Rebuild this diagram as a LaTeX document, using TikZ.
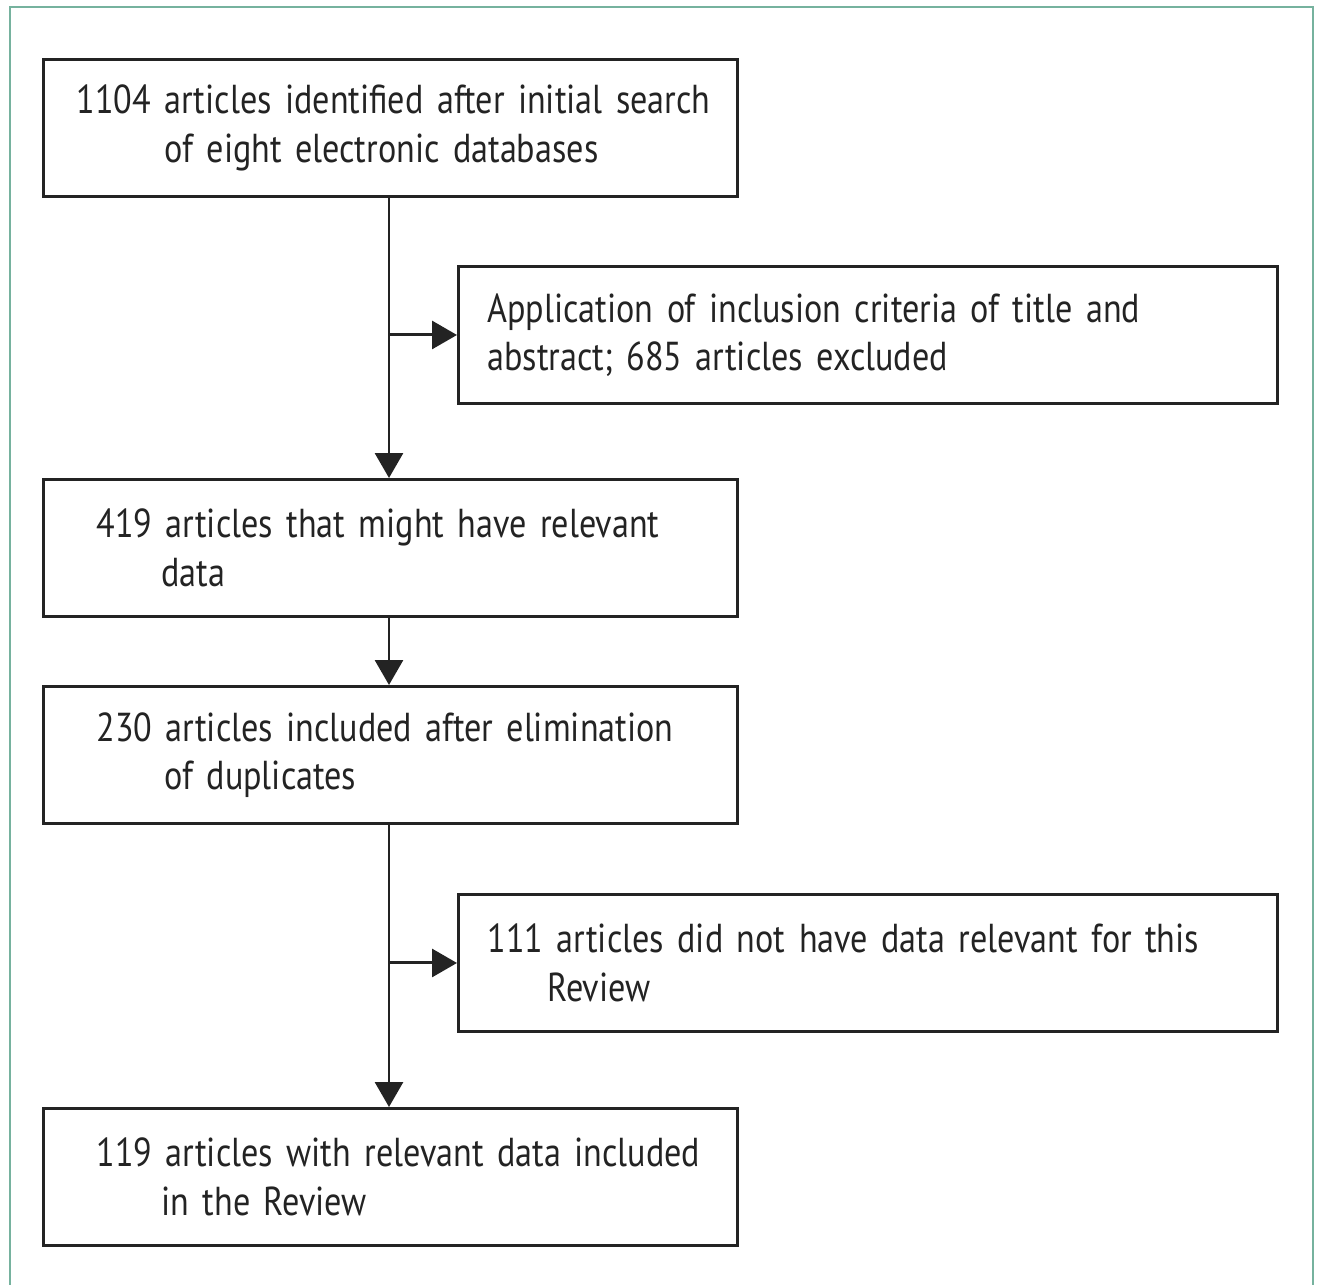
\documentclass[tikz,border=0pt]{standalone}
\usepackage{fontspec}
\setmainfont[FakeStretch=0.845]{PT Sans}
\usetikzlibrary{arrows.meta,positioning}

\definecolor{framegreen}{RGB}{118,178,158}
\definecolor{ink}{RGB}{35,35,35}
\newcommand\twolines[3][0cm]{\mbox{#2}\\\hspace*{#1}\mbox{#3}}

\begin{document}
\begin{tikzpicture}[x=0.02cm,y=-0.02cm,
    box/.style={draw=ink,line width=1.7pt,rectangle,minimum height=2.74cm,
      align=left,anchor=north west,text=ink,font=\fontsize{23}{27.5}\selectfont},
    wide/.style={box,minimum width=13.88cm,text width=11.76cm,inner xsep=1.06cm},
    side/.style={box,minimum width=16.38cm,text width=15.22cm,inner xsep=0.58cm},
    flow/.style={ink,line width=1.7pt,-{Triangle[length=0.5cm,width=0.56cm]}}]
  \useasboundingbox (0,0) rectangle (1320,1285);
  % frame
  \draw[framegreen,line width=1.2pt] (10,7) rectangle (1313,1300);

  % main column
  \node[box,minimum width=13.88cm,text width=12.56cm,inner xsep=0.66cm] (found) at (42,58)
    {\twolines[1.76cm]{1104 articles identified after initial search}{of eight electronic databases}};
  \node[wide] (might) at (42,478)
    {\twolines[1.3cm]{419 articles that might have relevant}{data}};
  \node[wide] (nodup) at (42,685)
    {\twolines[1.36cm]{230 articles included after elimination}{of duplicates}};
  \node[wide] (final) at (42,1107)
    {\twolines[1.3cm]{119 articles with relevant data included}{in the Review}};

  % exclusions
  \node[side] (screen) at (457,265)
    {\twolines{Application of inclusion criteria of title and}{abstract; 685 articles excluded}};
  \node[side] (norel) at (457,893)
    {\twolines[1.2cm]{111 articles did not have data relevant for this}{Review}};

  \coordinate (c1) at (389,195);
  \coordinate (c2) at (389,822);

  \draw[flow] (found.south -| c1) -- (might.north -| c1);
  \draw[flow] (c1 |- screen.west) -- (screen.west);
  \draw[flow] (might.south -| c1) -- (nodup.north -| c1);
  \draw[flow] (nodup.south -| c2) -- (final.north -| c2);
  \draw[flow] (c2 |- norel.west) -- (norel.west);
\end{tikzpicture}
\end{document}
